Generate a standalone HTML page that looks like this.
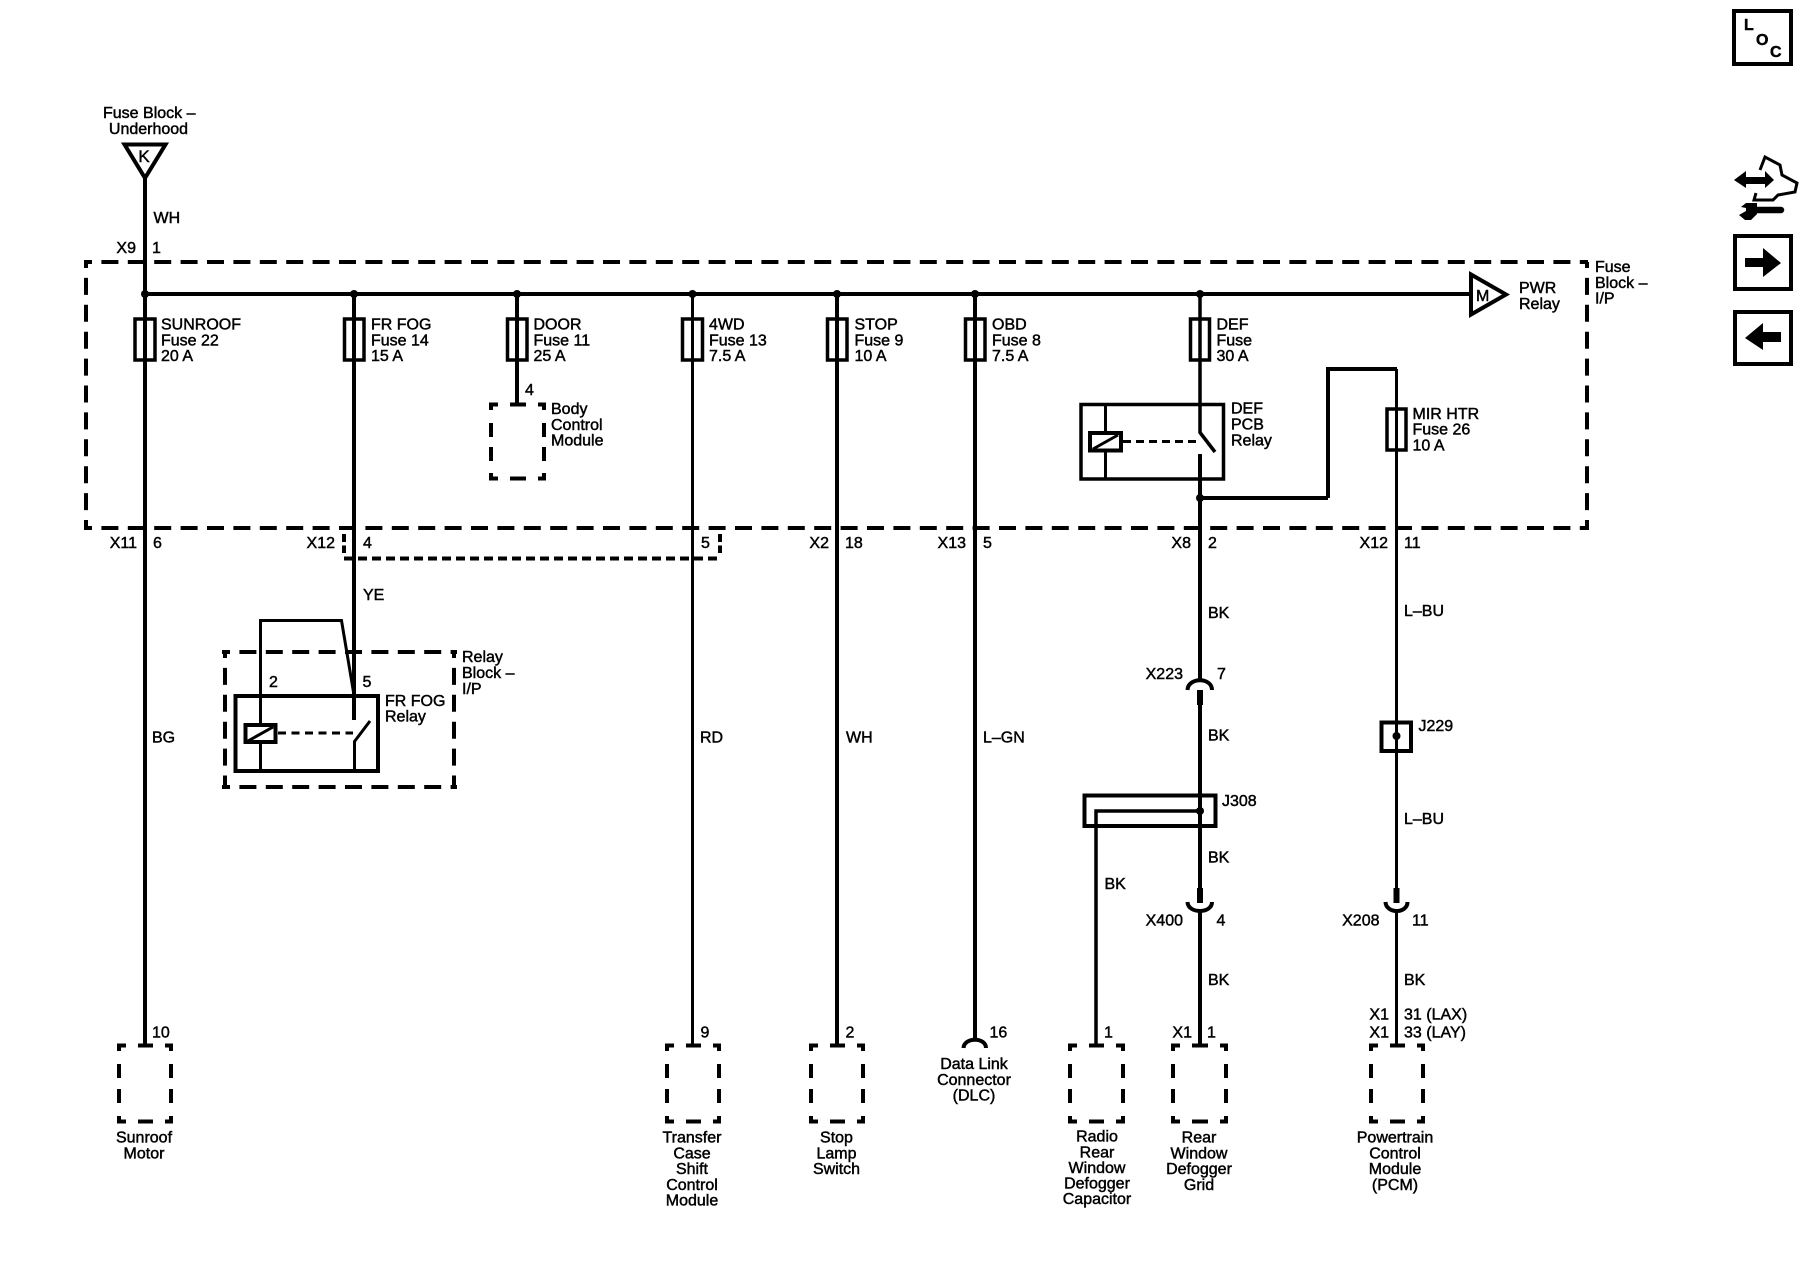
<!DOCTYPE html>
<html><head><meta charset="utf-8"><style>
html,body{margin:0;padding:0;background:#fff;width:1800px;height:1280px;overflow:hidden}
svg{display:block}
text{font-family:"Liberation Sans",sans-serif;font-size:16px;fill:#000;stroke:#000;stroke-width:.45}
.e{text-anchor:end}.m{text-anchor:middle}
.w{fill:none;stroke:#000;stroke-width:4}
.t{fill:none;stroke:#000;stroke-width:3}
.d{fill:none;stroke:#000;stroke-width:4}
</style></head><body>
<svg xmlns="http://www.w3.org/2000/svg" width="1800" height="1280" viewBox="0 0 1800 1280">
<rect width="1800" height="1280" fill="#fff"/>

<!-- Fuse block dashed -->
<path class="d" stroke-dasharray="17 9.4" stroke-dashoffset="9" d="M84 262H1588"/>
<path class="d" stroke-dasharray="17 9.4" stroke-dashoffset="9" d="M84 528H1588"/>
<path class="d" stroke-dasharray="17 9.9" stroke-dashoffset="11" d="M86 262V530"/>
<path class="d" stroke-dasharray="17 9.9" stroke-dashoffset="11" d="M1587 262V530"/>

<!-- Relay block dashed -->
<path class="d" stroke-dasharray="17 9.4" stroke-dashoffset="9" d="M222 652H457"/>
<path class="d" stroke-dasharray="17 9.4" stroke-dashoffset="9" d="M222 787H457"/>
<path class="d" stroke-dasharray="17 9.9" stroke-dashoffset="11" d="M225 652V789"/>
<path class="d" stroke-dasharray="17 9.9" stroke-dashoffset="11" d="M454 652V789"/>

<!-- X12 dashed shorting -->
<path class="d" stroke-dasharray="9 5" d="M344 558.500H720"/>
<path class="d" d="M344 534V553" stroke-dasharray="8 3.500"/>
<path class="d" d="M720 534V553" stroke-dasharray="8 3.500"/>

<!-- Top input -->
<polygon points="124.500,144.500 165.500,144.500 145,178" fill="#fff" stroke="#000" stroke-width="4"/>
<path class="w" d="M145 178V1044"/>
<path class="w" d="M143 294H1470"/>

<!-- Vertical wires -->
<path class="w" d="M354 294V720"/>
<path class="w" d="M517 294V404"/>
<path class="t" d="M692.500 294V1044"/>
<path class="w" d="M837 294V1044"/>
<path class="w" d="M975 294V1040"/>
<path class="t" stroke-width="3.500" style="stroke-width:3.500" d="M1200 294V432.500L1215 452"/>
<path class="w" d="M1200 454V680"/>
<path class="w" d="M1328 498V369"/>
<path class="w" d="M1200 498H1328"/>
<path class="w" d="M1326 369H1397"/>
<path class="t" d="M1396.500 369V888"/>

<!-- Dots -->
<g fill="#000">
<circle cx="145" cy="294" r="4"/><circle cx="354" cy="294" r="4"/><circle cx="517" cy="294" r="4"/>
<circle cx="692.500" cy="294" r="4"/><circle cx="837" cy="294" r="4"/><circle cx="975" cy="294" r="4"/>
<circle cx="1200" cy="294" r="4"/><circle cx="1200" cy="498" r="4"/><circle cx="1200" cy="811" r="4"/>
<circle cx="1396.500" cy="736" r="4"/>
</g>

<!-- Fuses -->
<g fill="none" stroke="#000" stroke-width="3.500">
<rect x="135" y="319" width="20" height="41"/>
<rect x="344.500" y="319" width="19.500" height="41"/>
<rect x="507.500" y="319" width="19.500" height="41"/>
<rect x="682.500" y="319" width="20" height="41"/>
<rect x="827.500" y="319" width="19.500" height="41"/>
<rect x="965.500" y="319" width="19.500" height="41"/>
<rect x="1190.500" y="319" width="19" height="41"/>
<rect x="1387" y="409" width="19" height="41"/>
</g>

<!-- PWR triangle -->
<polygon points="1471,274.500 1471,314.500 1506,294.500" fill="#fff" stroke="#000" stroke-width="4"/>

<!-- Body control module -->
<g class="d">
<path d="M489 404.500H546" stroke-dasharray="9 12 16 12 8"/>
<path d="M489 478.500H546" stroke-dasharray="9 12 16 12 8"/>
<path d="M491 403V480" stroke-dasharray="7 13 14 10 14 12 7"/>
<path d="M544 403V480" stroke-dasharray="7 13 14 10 14 12 7"/>
</g>

<!-- DEF PCB relay -->
<rect x="1081" y="404.500" width="142.500" height="74.500" fill="none" stroke="#000" stroke-width="3.500"/>
<path class="t" d="M1105.500 404V478"/>
<rect x="1090" y="433" width="31" height="17.500" fill="#fff" stroke="#000" stroke-width="4"/>
<path d="M1093 449L1118 435" stroke="#000" stroke-width="3"/>
<path class="t" stroke-dasharray="8 5" d="M1123 441.500H1201"/>

<!-- FR FOG relay -->
<rect x="235.500" y="696" width="142.500" height="75" fill="none" stroke="#000" stroke-width="4"/>
<path class="t" d="M260.500 770V620.500H341.500L354 695"/>
<path class="t" d="M354.500 771V741.500L370 721"/>
<rect x="245.500" y="725" width="30" height="17" fill="#fff" stroke="#000" stroke-width="4"/>
<path d="M248 741L273 727" stroke="#000" stroke-width="3"/>
<path class="t" stroke-dasharray="8 5.500" d="M278 733H353"/>

<!-- Connectors DEF line -->
<path class="w" d="M1187.500 690C1188 677 1212 677 1212 690"/>
<path class="w" style="stroke-width:6" d="M1200 690V705"/>
<path class="w" d="M1200 705V888"/>
<path class="w" style="stroke-width:6" d="M1200 888V903"/>
<path class="w" d="M1187.500 902C1188 914 1212 914 1212 902"/>
<path class="w" d="M1200 911V1044"/>

<!-- J308 -->
<rect x="1084.500" y="795.500" width="131" height="30.500" fill="none" stroke="#000" stroke-width="4"/>
<path class="t" style="stroke-width:3.500" d="M1200 811H1096V1044"/>

<!-- J229 -->
<rect x="1381.500" y="722.500" width="29.500" height="28.500" fill="none" stroke="#000" stroke-width="4"/>

<!-- X208 -->
<path class="w" style="stroke-width:6" d="M1396.500 888V903"/>
<path class="w" d="M1385.500 902C1386 914 1407.500 914 1407.500 902"/>
<path class="t" d="M1396.500 911V1044"/>

<!-- DLC arc -->
<path class="w" d="M963.500 1048C964 1037 986 1037 986 1048"/>

<!-- Bottom dashed boxes -->
<g class="d">
<g>
<path d="M117 1045.500H173" stroke-dasharray="9 12 15 12 8"/>
<path d="M117 1121.500H173" stroke-dasharray="9 12 15 12 8"/>
<path d="M119 1044V1123" stroke-dasharray="7 13 14 11 14 13 7"/>
<path d="M171 1044V1123" stroke-dasharray="7 13 14 11 14 13 7"/>
</g>
<g>
<path d="M665 1045.500H721" stroke-dasharray="9 12 15 12 8"/>
<path d="M665 1121.500H721" stroke-dasharray="9 12 15 12 8"/>
<path d="M667 1044V1123" stroke-dasharray="7 13 14 11 14 13 7"/>
<path d="M719 1044V1123" stroke-dasharray="7 13 14 11 14 13 7"/>
</g>
<g>
<path d="M809 1045.500H865" stroke-dasharray="9 12 15 12 8"/>
<path d="M809 1121.500H865" stroke-dasharray="9 12 15 12 8"/>
<path d="M811 1044V1123" stroke-dasharray="7 13 14 11 14 13 7"/>
<path d="M863 1044V1123" stroke-dasharray="7 13 14 11 14 13 7"/>
</g>
<g>
<path d="M1068 1045.500H1125" stroke-dasharray="9 12 15 12 9"/>
<path d="M1068 1121.500H1125" stroke-dasharray="9 12 15 12 9"/>
<path d="M1070 1044V1123" stroke-dasharray="7 13 14 11 14 13 7"/>
<path d="M1123 1044V1123" stroke-dasharray="7 13 14 11 14 13 7"/>
</g>
<g>
<path d="M1171 1045.500H1228" stroke-dasharray="9 12 16 12 8"/>
<path d="M1171 1121.500H1228" stroke-dasharray="9 12 16 12 8"/>
<path d="M1173 1044V1123" stroke-dasharray="7 13 14 11 14 13 7"/>
<path d="M1226 1044V1123" stroke-dasharray="7 13 14 11 14 13 7"/>
</g>
<g>
<path d="M1369 1045.500H1425" stroke-dasharray="9 12 15 12 8"/>
<path d="M1369 1121.500H1425" stroke-dasharray="9 12 15 12 8"/>
<path d="M1371 1044V1123" stroke-dasharray="7 13 14 11 14 13 7"/>
<path d="M1423 1044V1123" stroke-dasharray="7 13 14 11 14 13 7"/>
</g>
</g>

<!-- Text -->
<text x="103" y="118">Fuse Block –</text>
<text class="m" x="148.500" y="134">Underhood</text>
<text class="m" x="144" y="162" style="font-size:17px">K</text>
<text x="153.500" y="223">WH</text>
<text class="e" x="136" y="253">X9</text>
<text x="152" y="253">1</text>

<text x="161" y="329.500">SUNROOF</text><text x="161" y="345.500">Fuse 22</text><text x="161" y="361">20 A</text>
<text x="371" y="329.500">FR FOG</text><text x="371" y="345.500">Fuse 14</text><text x="371" y="361">15 A</text>
<text x="533.500" y="329.500">DOOR</text><text x="533.500" y="345.500">Fuse 11</text><text x="533.500" y="361">25 A</text>
<text x="709" y="329.500">4WD</text><text x="709" y="345.500">Fuse 13</text><text x="709" y="361">7.5 A</text>
<text x="854.500" y="329.500">STOP</text><text x="854.500" y="345.500">Fuse 9</text><text x="854.500" y="361">10 A</text>
<text x="992" y="329.500">OBD</text><text x="992" y="345.500">Fuse 8</text><text x="992" y="361">7.5 A</text>
<text x="1216.500" y="329.500">DEF</text><text x="1216.500" y="345.500">Fuse</text><text x="1216.500" y="361">30 A</text>
<text x="1412.500" y="419">MIR HTR</text><text x="1412.500" y="434.500">Fuse 26</text><text x="1412.500" y="450.500">10 A</text>

<text x="1476" y="301">M</text>
<text x="1519" y="293">PWR</text><text x="1519" y="309">Relay</text>
<text x="1595" y="272">Fuse</text><text x="1595" y="288">Block –</text><text x="1595" y="303.500">I/P</text>

<text x="525" y="395">4</text>
<text x="551" y="414">Body</text><text x="551" y="430">Control</text><text x="551" y="445.500">Module</text>
<text x="1231" y="413.500">DEF</text><text x="1231" y="429.500">PCB</text><text x="1231" y="445.500">Relay</text>

<text class="e" x="137" y="548">X11</text><text x="153" y="548">6</text>
<text class="e" x="335" y="548">X12</text><text x="363" y="548">4</text>
<text x="701" y="548">5</text>
<text class="e" x="829" y="548">X2</text><text x="845" y="548">18</text>
<text class="e" x="966" y="548">X13</text><text x="983" y="548">5</text>
<text class="e" x="1191" y="548">X8</text><text x="1208" y="548">2</text>
<text class="e" x="1388" y="548">X12</text><text x="1404" y="548">11</text>

<text x="363" y="600">YE</text>
<text x="269" y="687">2</text><text x="362.500" y="687">5</text>
<text x="385" y="706">FR FOG</text><text x="385" y="721.500">Relay</text>
<text x="462" y="662">Relay</text><text x="462" y="678">Block –</text><text x="462" y="694">I/P</text>

<text x="152" y="742.500">BG</text>
<text x="700" y="742.500">RD</text>
<text x="846" y="742.500">WH</text>
<text x="983" y="742.500">L–GN</text>

<text x="1208" y="618">BK</text>
<text class="e" x="1183" y="679">X223</text><text x="1217" y="679">7</text>
<text x="1208" y="740.500">BK</text>
<text x="1222" y="806">J308</text>
<text x="1208" y="862.500">BK</text>
<text x="1104.500" y="889">BK</text>
<text class="e" x="1183" y="925.500">X400</text><text x="1216.500" y="925.500">4</text>
<text x="1208" y="985">BK</text>

<text x="1404" y="616">L–BU</text>
<text x="1418.500" y="731">J229</text>
<text x="1404" y="824">L–BU</text>
<text class="e" x="1379.500" y="925.500">X208</text><text x="1412" y="925.500">11</text>
<text x="1404" y="985">BK</text>
<text class="e" x="1389" y="1019.500">X1</text><text x="1404" y="1019.500">31 (LAX)</text>
<text class="e" x="1389" y="1037.500">X1</text><text x="1404" y="1037.500">33 (LAY)</text>

<text x="152" y="1037.500">10</text>
<text x="700.500" y="1037.500">9</text>
<text x="845.500" y="1037.500">2</text>
<text x="989.500" y="1037.500">16</text>
<text x="1104" y="1037.500">1</text>
<text class="e" x="1192" y="1037.500">X1</text><text x="1207" y="1037.500">1</text>

<text class="m" x="144" y="1142.500">Sunroof</text><text class="m" x="144" y="1158.500">Motor</text>
<text class="m" x="692" y="1142.500">Transfer</text><text class="m" x="692" y="1158.500">Case</text><text class="m" x="692" y="1174">Shift</text><text class="m" x="692" y="1190">Control</text><text class="m" x="692" y="1205.500">Module</text>
<text class="m" x="836.500" y="1142.500">Stop</text><text class="m" x="836.500" y="1158.500">Lamp</text><text class="m" x="836.500" y="1174">Switch</text>
<text class="m" x="974" y="1069">Data Link</text><text class="m" x="974" y="1085">Connector</text><text class="m" x="974" y="1100.500">(DLC)</text>
<text class="m" x="1097" y="1141.500">Radio</text><text class="m" x="1097" y="1157.500">Rear</text><text class="m" x="1097" y="1173">Window</text><text class="m" x="1097" y="1188.500">Defogger</text><text class="m" x="1097" y="1204">Capacitor</text>
<text class="m" x="1199" y="1142.500">Rear</text><text class="m" x="1199" y="1158.500">Window</text><text class="m" x="1199" y="1174">Defogger</text><text class="m" x="1199" y="1190">Grid</text>
<text class="m" x="1395" y="1142.500">Powertrain</text><text class="m" x="1395" y="1158.500">Control</text><text class="m" x="1395" y="1174">Module</text><text class="m" x="1395" y="1190">(PCM)</text>

<!-- Side icons -->
<rect x="1734" y="11" width="57" height="53" fill="none" stroke="#000" stroke-width="4"/>
<text x="1744" y="30" style="font-size:16px;font-weight:bold">L</text>
<text x="1756" y="45" style="font-size:16px;font-weight:bold">O</text>
<text x="1770" y="57" style="font-size:16px;font-weight:bold">C</text>

<path d="M1760 170L1765 157L1780 165L1782 175L1797 183L1795 192L1778 195L1773 200L1754 200L1756 193" fill="none" stroke="#000" stroke-width="3"/>
<polygon points="1734,180 1746,171 1746,177 1765,177 1765,171 1774,180 1765,188 1765,184 1746,184 1746,188" fill="#000"/>
<path d="M1750 210H1781" stroke="#000" stroke-width="6.500" stroke-linecap="round"/>
<path d="M1741 207L1746 203L1757 203L1757 214L1751 220H1745L1739 215L1746 211L1746 208Z" fill="#000"/>

<rect x="1735" y="236" width="56" height="53" fill="none" stroke="#000" stroke-width="4"/>
<polygon points="1745,258 1763,258 1763,248 1781,263 1763,277 1763,267 1745,267" fill="#000"/>

<rect x="1735" y="312" width="56" height="52" fill="none" stroke="#000" stroke-width="4"/>
<polygon points="1781,332 1763,332 1763,323 1745,338 1763,350 1763,342 1781,342" fill="#000"/>
</svg>
</body></html>
